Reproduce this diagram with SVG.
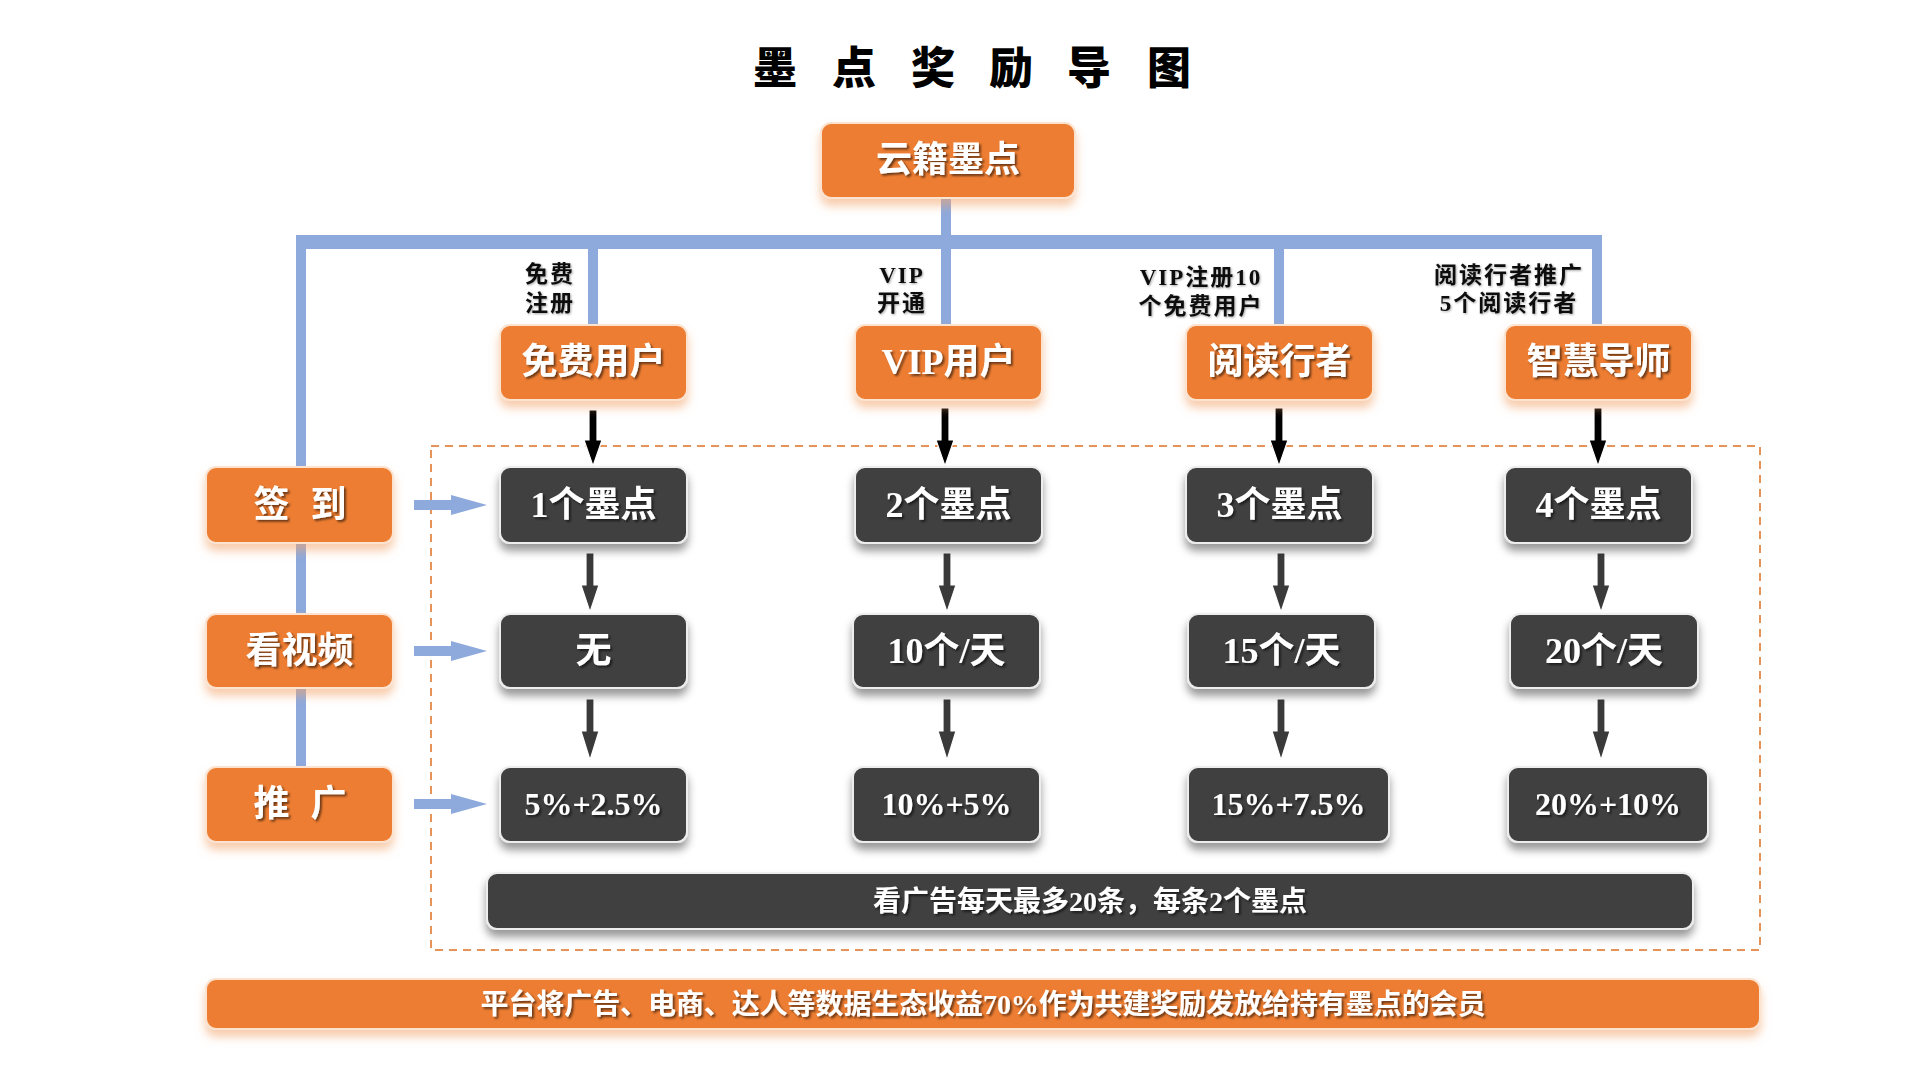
<svg xmlns="http://www.w3.org/2000/svg" width="1920" height="1080" viewBox="0 0 1920 1080">
<defs>
<filter id="oshadow" x="-20%" y="-30%" width="140%" height="180%">
<feDropShadow dx="0" dy="7" stdDeviation="5" flood-color="#F2A36B" flood-opacity="0.55"/>
</filter>
<filter id="dshadow" x="-20%" y="-30%" width="140%" height="180%">
<feDropShadow dx="0" dy="7" stdDeviation="4" flood-color="#000000" flood-opacity="0.4"/>
</filter>
<filter id="tshadow" x="-10%" y="-20%" width="120%" height="150%">
<feDropShadow dx="2" dy="2" stdDeviation="1" flood-color="#000000" flood-opacity="0.55"/>
</filter>
<filter id="lshadow" x="-10%" y="-20%" width="120%" height="150%">
<feDropShadow dx="1" dy="1" stdDeviation="0.8" flood-color="#000000" flood-opacity="0.35"/>
</filter>
</defs>
<style>
.on{fill:#ED7D31;stroke:#FBE3D0;stroke-width:2;filter:url(#oshadow)}
.dn{fill:#404040;stroke:#EDEDED;stroke-width:2;filter:url(#dshadow)}
.t{font-family:"Liberation Serif","Noto Sans CJK SC",serif;font-weight:700;fill:#FFFFFF;text-anchor:middle;dominant-baseline:central;filter:url(#tshadow)}
.t34{font-size:36px}
.t32{font-size:32px}
.lbl{font-family:"Liberation Serif","Noto Sans CJK SC",serif;font-weight:700;font-size:23px;letter-spacing:2px;fill:#111111;text-anchor:middle;dominant-baseline:central;filter:url(#lshadow)}
.blue{fill:#8EA9DB}
.barr{fill:#000000;stroke:#FFFFFF;stroke-width:1.2}
.garr{fill:#3A3A3A;stroke:#FFFFFF;stroke-width:1.2}
</style>
<rect width="1920" height="1080" fill="#FFFFFF"/>

<g id="title">
<text x="775 854 933 1011 1089 1169" y="65" font-family="Noto Sans CJK SC, sans-serif" font-weight="900" font-size="44" fill="#000000" text-anchor="middle" dominant-baseline="central">墨点奖励导图</text>
</g>

<g id="frame">
<rect x="431" y="446" width="1329" height="504" fill="none" stroke="#E59358" stroke-width="2" stroke-dasharray="8 6"/>
</g>

<g id="connectors">
<rect class="blue" x="296" y="235" width="1306" height="14"/>
<rect class="blue" x="296" y="235" width="10" height="540"/>
<rect class="blue" x="941" y="196" width="10" height="130"/>
<rect class="blue" x="588" y="240" width="10" height="86"/>
<rect class="blue" x="1274" y="240" width="10" height="86"/>
<rect class="blue" x="1592" y="240" width="10" height="86"/>
<polygon class="blue" points="414,500 451,500 451,495 487,505 451,515 451,510 414,510"/>
<polygon class="blue" points="414,646 451,646 451,641 487,651 451,661 451,656 414,656"/>
<polygon class="blue" points="414,799 451,799 451,794 487,804 451,814 451,809 414,809"/>
<polygon class="barr" points="589,410 597,410 597,440 602,440 593,466 584,440 589,440"/>
<polygon class="barr" points="941,408 949,408 949,440 954,440 945,466 936,440 941,440"/>
<polygon class="barr" points="1275,408 1283,408 1283,440 1288,440 1279,466 1270,440 1275,440"/>
<polygon class="barr" points="1594,408 1602,408 1602,440 1607,440 1598,466 1589,440 1594,440"/>
<polygon class="garr" points="586,553 594,553 594,585 599,585 590,612 581,585 586,585"/>
<polygon class="garr" points="943,553 951,553 951,585 956,585 947,612 938,585 943,585"/>
<polygon class="garr" points="1277,553 1285,553 1285,585 1290,585 1281,612 1272,585 1277,585"/>
<polygon class="garr" points="1597,553 1605,553 1605,585 1610,585 1601,612 1592,585 1597,585"/>
<polygon class="garr" points="586,699 594,699 594,731 599,731 590,760 581,731 586,731"/>
<polygon class="garr" points="943,699 951,699 951,731 956,731 947,760 938,731 943,731"/>
<polygon class="garr" points="1277,699 1285,699 1285,731 1290,731 1281,760 1272,731 1277,731"/>
<polygon class="garr" points="1597,699 1605,699 1605,731 1610,731 1601,760 1592,731 1597,731"/>
</g>

<g id="labels">
<text class="lbl" x="550"><tspan x="550" y="274">免费</tspan><tspan x="550" y="303">注册</tspan></text>
<text class="lbl" x="902"><tspan x="902" y="275">VIP</tspan><tspan x="902" y="303">开通</tspan></text>
<text class="lbl" x="1201"><tspan x="1201" y="277">VIP注册10</tspan><tspan x="1201" y="306">个免费用户</tspan></text>
<text class="lbl" x="1509"><tspan x="1509" y="275">阅读行者推广</tspan><tspan x="1509" y="303">5个阅读行者</tspan></text>
</g>

<g id="root">
<rect class="on" x="821" y="123" width="254" height="75" rx="10"/>
<text class="t" x="948" y="160" font-size="36">云籍墨点</text>
</g>

<g id="free-user">
<rect class="on" x="500" y="325" width="187" height="75" rx="10"/>
<text class="t t34" x="593.5" y="362">免费用户</text>
</g>
<g id="vip-user">
<rect class="on" x="855" y="325" width="187" height="75" rx="10"/>
<text class="t t34" x="948.5" y="362">VIP用户</text>
</g>
<g id="reader">
<rect class="on" x="1186" y="325" width="187" height="75" rx="10"/>
<text class="t t34" x="1279.5" y="362">阅读行者</text>
</g>
<g id="mentor">
<rect class="on" x="1505" y="325" width="187" height="75" rx="10"/>
<text class="t t34" x="1598.5" y="362">智慧导师</text>
</g>

<g id="checkin">
<rect class="on" x="206" y="467" width="187" height="76" rx="10"/>
<text class="t t34" x="271.5 328.5" y="505">签到</text>
</g>
<g id="video">
<rect class="on" x="206" y="614" width="187" height="74" rx="10"/>
<text class="t t34" x="299.5" y="651">看视频</text>
</g>
<g id="promote">
<rect class="on" x="206" y="767" width="187" height="75" rx="10"/>
<text class="t t34" x="271.5 328.5" y="804">推广</text>
</g>

<g id="c1-points">
<rect class="dn" x="500" y="467" width="187" height="76" rx="10"/>
<text class="t t34" x="593.5" y="505">1个墨点</text>
</g>
<g id="c2-points">
<rect class="dn" x="855" y="467" width="187" height="76" rx="10"/>
<text class="t t34" x="948.5" y="505">2个墨点</text>
</g>
<g id="c3-points">
<rect class="dn" x="1186" y="467" width="187" height="76" rx="10"/>
<text class="t t34" x="1279.5" y="505">3个墨点</text>
</g>
<g id="c4-points">
<rect class="dn" x="1505" y="467" width="187" height="76" rx="10"/>
<text class="t t34" x="1598.5" y="505">4个墨点</text>
</g>

<g id="c1-video">
<rect class="dn" x="500" y="614" width="187" height="74" rx="10"/>
<text class="t t34" x="593.5" y="651">无</text>
</g>
<g id="c2-video">
<rect class="dn" x="853" y="614" width="187" height="74" rx="10"/>
<text class="t t34" x="946.5" y="651">10个/天</text>
</g>
<g id="c3-video">
<rect class="dn" x="1188" y="614" width="187" height="74" rx="10"/>
<text class="t t34" x="1281.5" y="651">15个/天</text>
</g>
<g id="c4-video">
<rect class="dn" x="1510" y="614" width="188" height="74" rx="10"/>
<text class="t t34" x="1604" y="651">20个/天</text>
</g>

<g id="c1-promote">
<rect class="dn" x="500" y="767" width="187" height="75" rx="10"/>
<text class="t t32" x="593.5" y="804">5%+2.5%</text>
</g>
<g id="c2-promote">
<rect class="dn" x="853" y="767" width="187" height="75" rx="10"/>
<text class="t t32" x="946.5" y="804">10%+5%</text>
</g>
<g id="c3-promote">
<rect class="dn" x="1188" y="767" width="201" height="75" rx="10"/>
<text class="t t32" x="1288.5" y="804">15%+7.5%</text>
</g>
<g id="c4-promote">
<rect class="dn" x="1508" y="767" width="200" height="75" rx="10"/>
<text class="t t32" x="1608" y="804">20%+10%</text>
</g>

<g id="ads">
<rect class="dn" x="487" y="873" width="1206" height="56" rx="10"/>
<text class="t" x="1090" y="901" font-size="28">看广告每天最多20条，每条2个墨点</text>
</g>

<g id="footer">
<rect class="on" x="206" y="979" width="1554" height="50" rx="10"/>
<text class="t" x="983" y="1004" font-size="28" textLength="1005" lengthAdjust="spacing">平台将广告、电商、达人等数据生态收益70%作为共建奖励发放给持有墨点的会员</text>
</g>
</svg>
